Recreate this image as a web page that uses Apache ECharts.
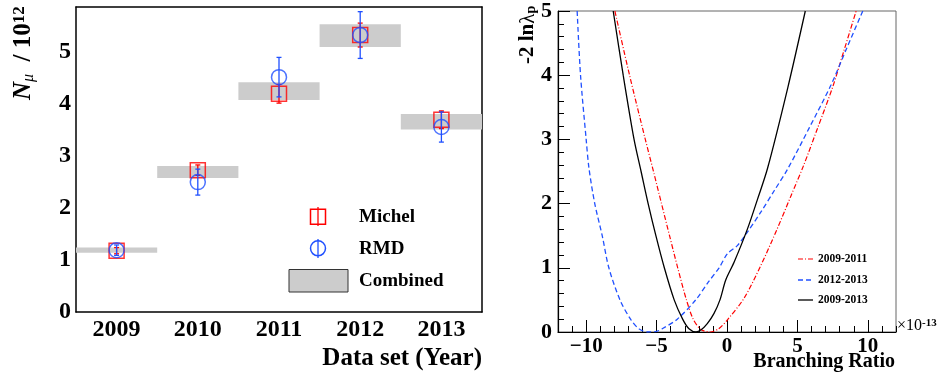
<!DOCTYPE html>
<html>
<head>
<meta charset="utf-8">
<script src="https://cdn.jsdelivr.net/npm/echarts@6/dist/echarts.min.js"></script>
<style>
  html, body { margin: 0; padding: 0; background: #fff; }
  #chart { width: 937px; height: 376px; }
</style>
</head>
<body>
<div id="chart"></div>
<script>
// 左图：各年份的 N_mu
const years = ['2009', '2010', '2011', '2012', '2013']
const michel = [1.18, 2.73, 4.20, 5.33, 3.70]
const michelErr = [0.06, 0.10, 0.18, 0.23, 0.17]
const rmd = [1.19, 2.50, 4.52, 5.33, 3.56]
const rmdErr = [0.10, 0.25, 0.38, 0.45, 0.29]
const combined = [1.19, 2.695, 4.25, 5.32, 3.66]
const combinedErr = [0.05, 0.115, 0.17, 0.22, 0.15]

// 右图：-2 ln lambda_p 曲线 [branching ratio (1e-13), value]
const curve0911 = [[-7.96, 5.0], [-6.92, 4.0], [-5.8, 3.0], [-5.22, 2.5], [-4.65, 2.0], [-4.08, 1.5],
  [-3.5, 1.0], [-2.88, 0.5], [-2.4, 0.2], [-1.85, 0.04], [-1.2, 0], [-0.6, 0.05], [0.03, 0.19],
  [1.22, 0.53], [2.41, 1.04], [3.59, 1.62], [4.54, 2.12], [5.45, 2.6], [6.44, 3.18], [7.51, 3.82],
  [8.3, 4.38], [9.17, 5.0]]
const curve1213 = [[-10.64, 5.0], [-10.4, 4.0], [-10.0, 3.0], [-9.8, 2.55], [-9.39, 2.0], [-8.86, 1.5],
  [-8.39, 1.0], [-7.6, 0.5], [-6.85, 0.2], [-6.26, 0.05], [-5.6, 0], [-5.0, 0.01], [-4.6, 0.05],
  [-3.53, 0.2], [-2.22, 0.5], [-1.32, 0.78], [-0.56, 1.0], [0.03, 1.22], [0.75, 1.35], [1.46, 1.56],
  [2.41, 1.87], [3.35, 2.2], [4.31, 2.54], [5.84, 3.18], [7.39, 3.85], [8.5, 4.42], [9.64, 5.0]]
const curve0913 = [[-8.08, 5.0], [-7.37, 4.0], [-6.6, 3.0], [-6.1, 2.5], [-5.6, 2.0], [-5.05, 1.5],
  [-4.45, 1.0], [-3.75, 0.5], [-3.15, 0.2], [-2.7, 0.05], [-2.2, 0], [-1.86, 0.03], [-1.4, 0.13],
  [-0.92, 0.29], [-0.5, 0.5], [-0.09, 0.81], [0.51, 1.09], [1.46, 1.61], [2.17, 2.07], [2.88, 2.55],
  [4.31, 3.8], [5.56, 5.0]]
const majorTicksBR = [-10, -5, 0, 5, 10]

const FONT = 'Liberation Serif'
const RED = '#ff0000'
const BLUE = '#2050ff'
const GREY = '#cccccc'

const chart = echarts.init(document.getElementById('chart'))

const boxItem = (params, api) => {
  const i = api.value(0)
  const top = api.coord([i, api.value(1) + api.value(2)])
  const bot = api.coord([i, api.value(1) - api.value(2)])
  const w = api.size([1, 0])[0]
  return {
    type: 'rect',
    shape: { x: top[0] - w / 2, y: top[1], width: w, height: bot[1] - top[1] },
    style: { fill: GREY }
  }
}

const errItem = (color) => (params, api) => {
  const i = api.value(0)
  const hi = api.coord([i, api.value(1) + api.value(2)])
  const lo = api.coord([i, api.value(1) - api.value(2)])
  const cap = 2.5
  const st = { stroke: color, lineWidth: 1.3 }
  return {
    type: 'group',
    children: [
      { type: 'line', shape: { x1: hi[0], y1: hi[1], x2: lo[0], y2: lo[1] }, style: st },
      { type: 'line', shape: { x1: hi[0] - cap, y1: hi[1], x2: hi[0] + cap, y2: hi[1] }, style: st },
      { type: 'line', shape: { x1: lo[0] - cap, y1: lo[1], x2: lo[0] + cap, y2: lo[1] }, style: st }
    ]
  }
}

const boldLabel = (size) => ({ fontFamily: FONT, fontWeight: 'bold', fontSize: size, color: '#000' })
const blackLine = (w) => ({ show: true, onZero: false, lineStyle: { color: '#000', width: w } })

const option = {
  backgroundColor: '#fff',
  animation: false,
  grid: [
    { left: 76, right: 455, top: 7, bottom: 64 },
    { left: 558, right: 41, top: 9, bottom: 44, show: true, borderColor: '#666', borderWidth: 1 }
  ],
  xAxis: [
    {
      type: 'category', gridIndex: 0, data: years, position: 'bottom',
      axisLine: blackLine(1.5),
      axisTick: { alignWithLabel: true, inside: true, length: 9, lineStyle: { color: '#000', width: 1.5 } },
      axisLabel: { ...boldLabel(24), margin: 6 }
    },
    {
      type: 'category', gridIndex: 0, data: years, position: 'top',
      axisLine: blackLine(1.5),
      axisTick: { alignWithLabel: true, inside: true, length: 9, lineStyle: { color: '#000', width: 1.5 } },
      axisLabel: { show: false }
    },
    {
      type: 'value', gridIndex: 1, min: -12, max: 12, interval: 1, position: 'bottom',
      axisLine: blackLine(1.2),
      axisTick: { inside: true, length: 6, lineStyle: { color: '#000', width: 1 } },
      axisLabel: {
        ...boldLabel(21), margin: 4,
        formatter: (v) => (v % 5 === 0 ? (v < 0 ? '\u2212' + (-v) : String(v)) : '')
      },
      splitLine: { show: false }
    },
    {
      type: 'value', gridIndex: 1, min: -12, max: 12, position: 'bottom',
      axisLine: { show: false, onZero: false },
      axisTick: { inside: true, length: 12, customValues: majorTicksBR, lineStyle: { color: '#000', width: 1 } },
      axisLabel: { show: false },
      splitLine: { show: false }
    }
  ],
  yAxis: [
    {
      type: 'value', gridIndex: 0, min: 0, max: 5.87, interval: 1, position: 'left',
      axisLine: blackLine(1.5),
      axisTick: { inside: true, length: 12, lineStyle: { color: '#000', width: 1.5 } },
      axisLabel: { ...boldLabel(24), margin: 5, formatter: (v) => (Number.isInteger(v) ? String(v) : '') },
      splitLine: { show: false }
    },
    {
      type: 'value', gridIndex: 0, min: 0, max: 5.87, interval: 1, position: 'right',
      axisLine: blackLine(1.5),
      axisTick: { inside: true, length: 12, lineStyle: { color: '#000', width: 1.5 } },
      axisLabel: { show: false },
      splitLine: { show: false }
    },
    {
      type: 'value', gridIndex: 1, min: 0, max: 5, interval: 1, position: 'left',
      axisLine: blackLine(1.2),
      axisTick: { inside: true, length: 12, lineStyle: { color: '#000', width: 1 } },
      minorTick: { show: true, splitNumber: 5, length: 6, lineStyle: { color: '#000', width: 1 } },
      axisLabel: { ...boldLabel(22), margin: 6 },
      splitLine: { show: false }
    }
  ],
  series: [
    {
      type: 'custom', name: 'Combined', xAxisIndex: 0, yAxisIndex: 0, renderItem: boxItem,
      encode: { x: 0, y: 1 }, z: 1,
      data: years.map((y, i) => [i, combined[i], combinedErr[i]])
    },
    {
      type: 'custom', name: 'MichelErr', xAxisIndex: 0, yAxisIndex: 0, renderItem: errItem(RED),
      encode: { x: 0, y: 1 }, z: 2,
      data: years.map((y, i) => [i, michel[i], michelErr[i]])
    },
    {
      type: 'scatter', name: 'Michel', xAxisIndex: 0, yAxisIndex: 0, symbol: 'rect', symbolSize: 15, z: 3,
      itemStyle: { color: 'rgba(0,0,0,0)', borderColor: RED, borderWidth: 1.5 },
      data: years.map((y, i) => [i, michel[i]])
    },
    {
      type: 'custom', name: 'RMDErr', xAxisIndex: 0, yAxisIndex: 0, renderItem: errItem(BLUE),
      encode: { x: 0, y: 1 }, z: 4,
      data: years.map((y, i) => [i, rmd[i], rmdErr[i]])
    },
    {
      type: 'scatter', name: 'RMD', xAxisIndex: 0, yAxisIndex: 0, symbol: 'circle', symbolSize: 15, z: 5,
      itemStyle: { color: 'rgba(0,0,0,0)', borderColor: BLUE, borderWidth: 1.5 },
      data: years.map((y, i) => [i, rmd[i]])
    },
    {
      type: 'line', name: '2009-2011', xAxisIndex: 2, yAxisIndex: 2, data: curve0911, smooth: 0.3,
      showSymbol: false, clip: true, lineStyle: { color: RED, width: 1.2, type: [5, 2, 1, 2] }
    },
    {
      type: 'line', name: '2012-2013', xAxisIndex: 2, yAxisIndex: 2, data: curve1213, smooth: 0.3,
      showSymbol: false, clip: true, lineStyle: { color: BLUE, width: 1.3, type: [5, 3] }
    },
    {
      type: 'line', name: '2009-2013', xAxisIndex: 2, yAxisIndex: 2, data: curve0913, smooth: 0.3,
      showSymbol: false, clip: true, lineStyle: { color: '#000', width: 1.3 }
    }
  ],
  graphic: [
    // 左图 y 轴标题
    {
      type: 'text', x: 24, y: 100, rotation: Math.PI / 2,
      style: {
        text: '{n|N}{mu|\u03bc}{t|  / 10}{sup|12}', textAlign: 'left', textVerticalAlign: 'middle',
        rich: {
          n: { fontFamily: FONT, fontWeight: 'bold', fontStyle: 'italic', fontSize: 25, verticalAlign: 'middle' },
          mu: { fontFamily: FONT, fontStyle: 'italic', fontSize: 16, verticalAlign: 'bottom' },
          t: { fontFamily: FONT, fontWeight: 'bold', fontSize: 25, verticalAlign: 'middle' },
          sup: { fontFamily: FONT, fontWeight: 'bold', fontSize: 17, verticalAlign: 'top' }
        }
      }
    },
    {
      type: 'text', x: 482, y: 359,
      style: { text: 'Data set (Year)', font: 'bold 25px "Liberation Serif"', textAlign: 'right', textVerticalAlign: 'middle', fill: '#000' }
    },
    // 左图图例
    { type: 'rect', shape: { x: 310.5, y: 209.2, width: 15, height: 15 }, style: { fill: 'none', stroke: RED, lineWidth: 1.5 }, z: 10 },
    { type: 'line', shape: { x1: 318, y1: 207, x2: 318, y2: 226 }, style: { stroke: RED, lineWidth: 1.3 }, z: 10 },
    { type: 'text', x: 359, y: 217, style: { text: 'Michel', font: 'bold 19px "Liberation Serif"', textVerticalAlign: 'middle', fill: '#000' }, z: 10 },
    { type: 'circle', shape: { cx: 318, cy: 248.3, r: 7.5 }, style: { fill: 'none', stroke: BLUE, lineWidth: 1.5 }, z: 10 },
    { type: 'line', shape: { x1: 318, y1: 239, x2: 318, y2: 258 }, style: { stroke: BLUE, lineWidth: 1.3 }, z: 10 },
    { type: 'text', x: 359, y: 249, style: { text: 'RMD', font: 'bold 19px "Liberation Serif"', textVerticalAlign: 'middle', fill: '#000' }, z: 10 },
    { type: 'rect', shape: { x: 289, y: 269.5, width: 59, height: 22.5 }, style: { fill: GREY, stroke: '#333', lineWidth: 1 }, z: 10 },
    { type: 'text', x: 359, y: 281, style: { text: 'Combined', font: 'bold 19px "Liberation Serif"', textVerticalAlign: 'middle', fill: '#000' }, z: 10 },
    // 右图标题
    {
      type: 'text', x: 528, y: 64, rotation: Math.PI / 2,
      style: {
        text: '{a|-2 ln}{l|\u03bb}{s|p}', textAlign: 'left', textVerticalAlign: 'middle',
        rich: {
          a: { fontFamily: FONT, fontWeight: 'bold', fontSize: 21, verticalAlign: 'middle' },
          l: { fontFamily: FONT, fontSize: 21, verticalAlign: 'middle' },
          s: { fontFamily: FONT, fontWeight: 'bold', fontSize: 14, verticalAlign: 'bottom' }
        }
      }
    },
    {
      type: 'text', x: 895, y: 362,
      style: { text: 'Branching Ratio', font: 'bold 20px "Liberation Serif"', textAlign: 'right', textVerticalAlign: 'middle', fill: '#000' }
    },
    {
      type: 'text', x: 897, y: 326,
      style: {
        text: '{a|\u00d710}{s|-13}', textVerticalAlign: 'middle',
        rich: {
          a: { fontFamily: FONT, fontSize: 16, verticalAlign: 'bottom' },
          s: { fontFamily: FONT, fontWeight: 'bold', fontSize: 11, verticalAlign: 'top' }
        }
      }
    },
    // 右图图例
    { type: 'line', shape: { x1: 798, y1: 259, x2: 813, y2: 259 }, style: { stroke: RED, lineWidth: 1.2, lineDash: [5, 2, 1, 2] } },
    { type: 'text', x: 818, y: 259, style: { text: '2009-2011', font: 'bold 11.5px "Liberation Serif"', textVerticalAlign: 'middle', fill: '#000' } },
    { type: 'line', shape: { x1: 798, y1: 280, x2: 813, y2: 280 }, style: { stroke: BLUE, lineWidth: 1.3, lineDash: [5, 3] } },
    { type: 'text', x: 818, y: 280, style: { text: '2012-2013', font: 'bold 11.5px "Liberation Serif"', textVerticalAlign: 'middle', fill: '#000' } },
    { type: 'line', shape: { x1: 798, y1: 300, x2: 813, y2: 300 }, style: { stroke: '#000', lineWidth: 1.3 } },
    { type: 'text', x: 818, y: 300, style: { text: '2009-2013', font: 'bold 11.5px "Liberation Serif"', textVerticalAlign: 'middle', fill: '#000' } }
  ]
}

chart.setOption(option)
window.addEventListener('resize', () => chart.resize())
</script>
</body>
</html>
